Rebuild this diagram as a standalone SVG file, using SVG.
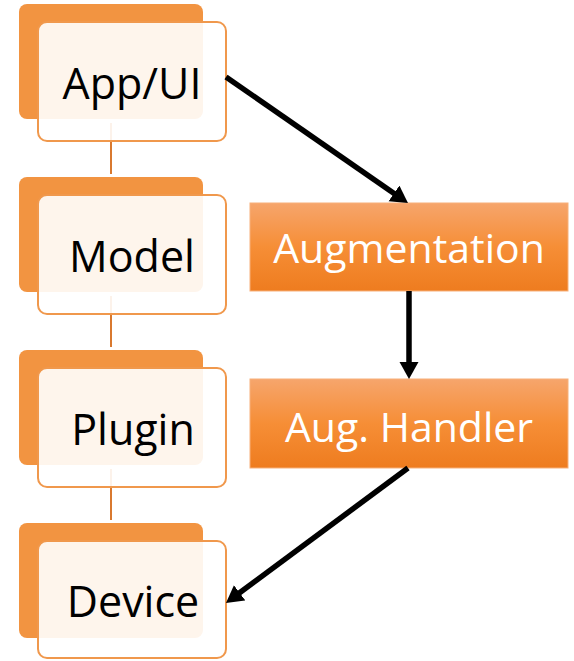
<svg xmlns="http://www.w3.org/2000/svg" width="574" height="661" viewBox="0 0 574 661">
  <style>
    .back { fill: #F29441; }
    .front { fill: #FFFFFF; fill-opacity: 0.9; stroke: #F0984C; stroke-width: 2; }
    .stack { stroke: #D9792F; stroke-width: 2; }
    .layer { font-family: "Open Sans", "Noto Sans", sans-serif; font-size: 43px; fill: #000000; text-anchor: middle; }
    .step { fill: url(#stepFill); stroke: #F7B07A; stroke-width: 1; }
    .stepText { font-family: "Open Sans", "Noto Sans", sans-serif; font-size: 41px; fill: #FFFFFF; text-anchor: middle; }
    .flow { stroke: #000000; stroke-width: 5.5; fill: none; marker-end: url(#head); }
  </style>
  <defs>
    <linearGradient id="stepFill" x1="0" y1="0" x2="0" y2="1">
      <stop offset="0" stop-color="#F6A56C"/>
      <stop offset="0.5" stop-color="#F68E36"/>
      <stop offset="1" stop-color="#EE7C1F"/>
    </linearGradient>
    <marker id="head" markerUnits="userSpaceOnUse" markerWidth="20" markerHeight="20" refX="5" refY="9.5" orient="auto">
      <path d="M0,0 L17,9.5 L0,19 Z" fill="#000000"/>
    </marker>
  </defs>

  <!-- vertical links between stacked layers (drawn beneath the cards) -->
  <g id="stack-links">
    <line class="stack" x1="111" y1="123" x2="111" y2="174"/>
    <line class="stack" x1="111" y1="296" x2="111" y2="347"/>
    <line class="stack" x1="111" y1="469" x2="111" y2="520"/>
  </g>

  <g id="app-ui">
    <rect class="back" x="19" y="4" width="184" height="115" rx="8"/>
    <rect class="front" x="38" y="22" width="188" height="119" rx="9"/>
    <text class="layer" x="132" y="99">App/UI</text>
  </g>

  <g id="model">
    <rect class="back" x="19" y="177" width="184" height="115" rx="8"/>
    <rect class="front" x="38" y="195" width="188" height="119" rx="9"/>
    <text class="layer" x="132" y="272">Model</text>
  </g>

  <g id="plugin">
    <rect class="back" x="19" y="350" width="184" height="115" rx="8"/>
    <rect class="front" x="38" y="368" width="188" height="119" rx="9"/>
    <text class="layer" x="133" y="445">Plugin</text>
  </g>

  <g id="device">
    <rect class="back" x="19" y="523" width="184" height="115" rx="8"/>
    <rect class="front" x="38" y="541" width="188" height="117" rx="9"/>
    <text class="layer" x="133" y="617">Device</text>
  </g>

  <g id="augmentation">
    <rect class="step" x="250" y="203" width="318" height="88"/>
    <text class="stepText" x="409" y="263">Augmentation</text>
  </g>

  <g id="aug-handler">
    <rect class="step" x="250" y="379" width="318" height="89"/>
    <text class="stepText" x="409" y="442">Aug. Handler</text>
  </g>

  <g id="connectors">
    <line class="flow" x1="226" y1="77" x2="398.1" y2="196.2"/>
    <line class="flow" x1="409" y1="291" x2="409" y2="367"/>
    <line class="flow" x1="408" y1="468" x2="235.6" y2="595.8"/>
  </g>
</svg>
